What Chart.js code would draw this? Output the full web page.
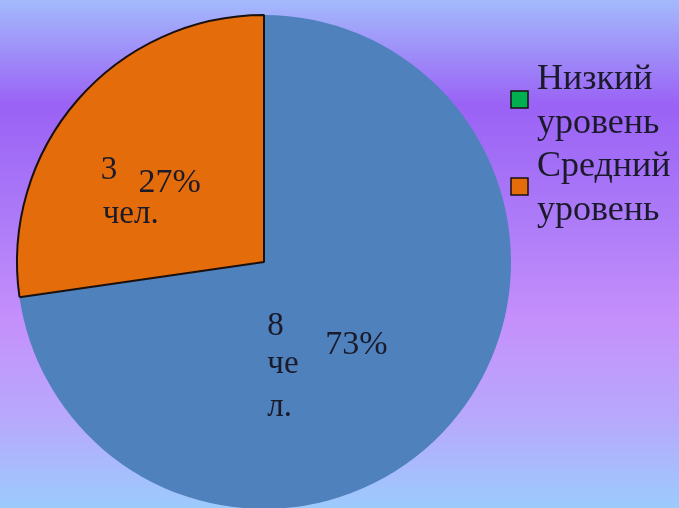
<!DOCTYPE html>
<html>
<head>
<meta charset="utf-8">
<script src="https://cdn.jsdelivr.net/npm/chart.js@4"></script>
<style>
  html, body { margin: 0; padding: 0; overflow: hidden; }
  body {
    width: 679px; height: 508px;
    background: linear-gradient(to bottom, #a3bafc 0px, #9a62f5 105px, #ad7bf8 220px, #c590fb 320px, #b7a9fc 420px, #9ccbfd 508px);
  }
  #wrap { position: absolute; left: 0; top: 0; width: 679px; height: 512px; }
</style>
</head>
<body>
<div id="wrap"><canvas id="c"></canvas></div>
<script>
// ---- data ----
const categories = ['Высокий уровень', 'Низкий уровень', 'Средний уровень'];
const values = [8, 0, 3];
const sliceColors = ['#4F81BD', '#00B050', '#E46C0A'];
const legendCategories = ['Низкий уровень', 'Средний уровень'];
// value label text as it wraps inside each slice
const countLines = [['8', 'че', 'л.'], [], ['3', 'чел.']];

const textColor = '#1a1a2a';
const serif = '"Liberation Serif", "Times New Roman", serif';

const total = values.reduce((a, b) => a + b, 0);

const labelPlugin = {
  id: 'sliceLabels',
  afterDatasetsDraw(chart) {
    const ctx = chart.ctx;
    const meta = chart.getDatasetMeta(0);
    ctx.save();
    ctx.fillStyle = textColor;
    ctx.textBaseline = 'alphabetic';
    meta.data.forEach((arc, i) => {
      if (!values[i]) return;
      const p = arc.tooltipPosition();
      const pct = Math.round(values[i] / total * 100) + '%';
      ctx.font = '34px ' + serif;
      ctx.textAlign = 'center';
      ctx.fillText(pct, p.x - 1, p.y + 11);
      const lines = countLines[i];
      ctx.font = '33px ' + serif;
      ctx.textAlign = 'left';
      if (i === 0) {
        ctx.fillText(lines[0], p.x - 90, p.y - 8);
        ctx.fillText(lines[1], p.x - 90, p.y + 30);
        ctx.fillText(lines[2], p.x - 90, p.y + 73);
      } else {
        ctx.fillText(lines[0], p.x - 70, p.y - 2);
        ctx.fillText(lines[1], p.x - 68, p.y + 42);
      }
    });
    ctx.restore();
  }
};

const legendPlugin = {
  id: 'sideLegend',
  afterDraw(chart) {
    const ctx = chart.ctx;
    const x0 = chart.chartArea.right - 1;
    let y0 = 89;
    ctx.save();
    ctx.font = '36px ' + serif;
    ctx.textBaseline = 'alphabetic';
    ctx.textAlign = 'left';
    legendCategories.forEach((name) => {
      const idx = categories.indexOf(name);
      const words = name.split(' ');
      ctx.fillStyle = sliceColors[idx];
      ctx.fillRect(x0, y0 + 2, 17, 17);
      ctx.strokeStyle = '#1a1010';
      ctx.lineWidth = 1.5;
      ctx.strokeRect(x0, y0 + 2, 17, 17);
      ctx.fillStyle = textColor;
      words.forEach((w, k) => ctx.fillText(w, x0 + 26, y0 + k * 44));
      y0 += 87;
    });
    ctx.restore();
  }
};

new Chart(document.getElementById('c'), {
  type: 'pie',
  data: {
    labels: categories,
    datasets: [{
      data: values,
      backgroundColor: sliceColors,
      borderColor: ['rgba(0,0,0,0)', 'rgba(0,0,0,0)', '#1a1010'],
      borderWidth: [0, 0, 2],
      hoverOffset: 0
    }]
  },
  options: {
    responsive: true,
    maintainAspectRatio: false,
    animation: false,
    layout: { padding: { left: 16, right: 167, top: 14, bottom: 2 } },
    plugins: {
      legend: { display: false },
      tooltip: { enabled: false }
    }
  },
  plugins: [labelPlugin, legendPlugin]
});
</script>
</body>
</html>
